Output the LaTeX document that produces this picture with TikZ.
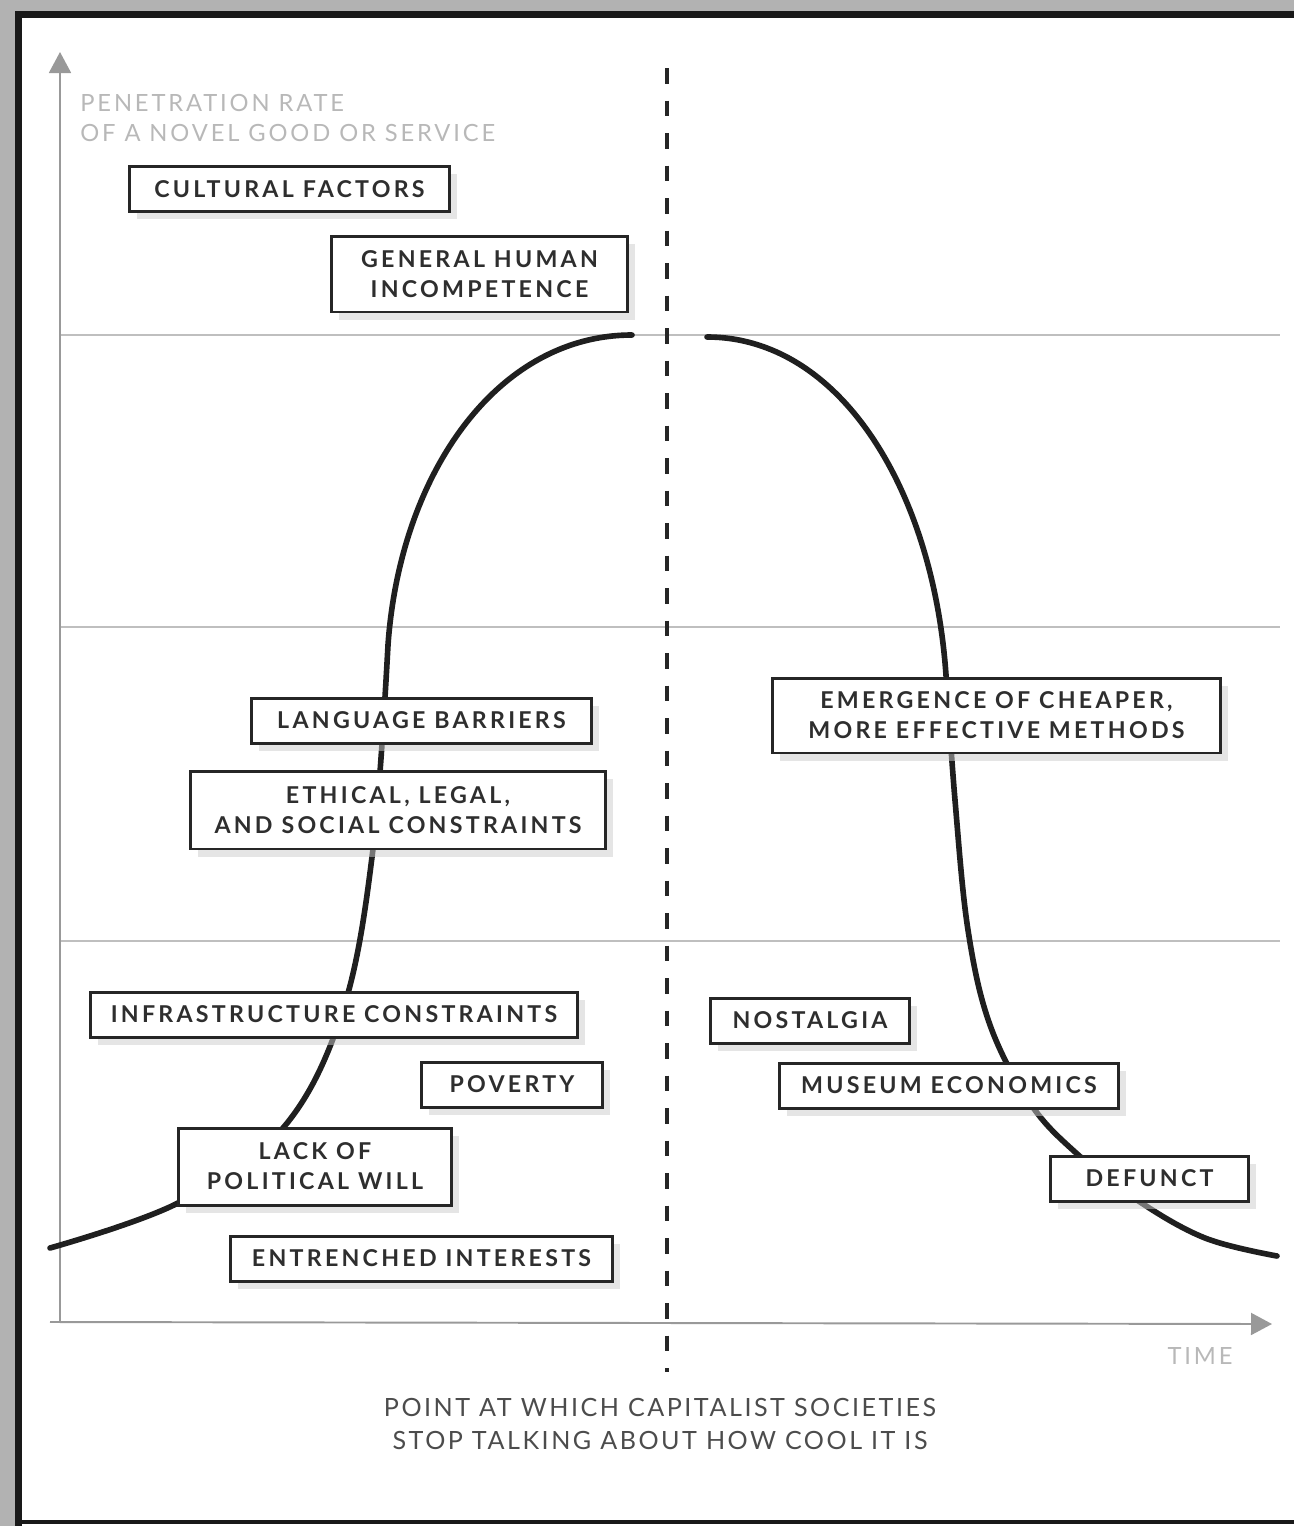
\documentclass[tikz,border=0pt]{standalone}
\usepackage{fontspec}
\setmainfont{Lato}
\newfontfamily\tagfont[LetterSpace=14]{Lato}
\newfontfamily\notefont[LetterSpace=12]{Lato}
\newfontfamily\peakfont[LetterSpace=10]{Lato}
\usetikzlibrary{arrows.meta,shadows}

\begin{document}
\begin{tikzpicture}[x=0.02cm,y=-0.02cm,
    tag/.style={draw=black!85,line width=1.7pt,fill=white,align=center,
      minimum height=0.9cm,inner sep=0pt,text=black!82,
      font=\tagfont\bfseries\fontsize{13.2}{17}\selectfont,
      drop shadow={shadow xshift=0.15cm,shadow yshift=-0.15cm,fill=black!20}},
    axislabel/.style={font=\notefont\fontsize{13.5}{17}\selectfont,text=black!28,align=left,inner sep=0pt},
    axisline/.style={draw=black!40,line width=1.1pt,-{Triangle[length=0.42cm,width=0.44cm]}},
    gridline/.style={draw=black!25,line width=0.8pt},
    trend/.style={draw=black!88,line width=3.2pt,line cap=round,line join=round},
  ]
  \useasboundingbox (0,0) rectangle (1294,1526);
  % scanned page edge
  \fill[black!30] (0,0) rectangle (1294,11);
  \fill[black!30] (0,0) rectangle (15,1526);
  \draw[black!90,line width=4pt] (15,14.5) -- (1294,14.5);
  \draw[black!90,line width=4pt] (18.5,11) -- (18.5,1526);
  \draw[black!90,line width=2.4pt] (15,1522) -- (1294,1522);

  % axes
  \coordinate (ybot) at (60,1322);
  \coordinate (ytip) at (60,52);
  \coordinate (xbot) at (50,1322);
  \coordinate (xtip) at (1272,1324);
  \foreach \y in {335,627,941}
    \draw[gridline] (60,\y) -- (1280,\y);
  \draw[axisline] (ybot) -- (ytip);
  \draw[axisline] (xbot) -- (xtip);

  % divider
  \coordinate (dtop) at (667,68);
  \coordinate (dbot) at (667,1372);
  \draw[black!85,line width=1.9pt,dash pattern=on 9pt off 9.5pt] (dtop) -- (dbot);

  % adoption and decline
  \draw[trend] plot[smooth,tension=0.6] coordinates {(50,1248) (178,1203) (283,1128)
      (343,1010) (373,849) (388,645)}
    .. controls (400,474) and (497,335) .. (632,335);
  \draw[trend] (707,337) .. controls (839,337) and (933,488) .. (946,675)
    -- plot[smooth,tension=0.6] coordinates {(946,675) (955,800) (968,930) (990,1025)
      (1030,1103) (1075,1152) (1137,1200) (1205,1238) (1277,1256)};

  % labels
  \node[axislabel,anchor=west] (ylabel) at (80,118) {PENETRATION RATE\\OF A NOVEL GOOD OR SERVICE};
  \node[axislabel] (xlabel) at (1200,1356) {TIME};
  \node[font=\peakfont\fontsize{14.3}{19.3}\selectfont,text=black!70,align=center] (peak)
    at (660,1424) {POINT AT WHICH CAPITALIST SOCIETIES\\STOP TALKING ABOUT HOW COOL IT IS};

  % boxes
  \node[tag,minimum width=6.42cm] (culture) at (289.5,189) {CULTURAL FACTORS};
  \node[tag,minimum width=5.94cm,minimum height=1.52cm] (incompetence) at (479.5,274) {GENERAL HUMAN\\INCOMPETENCE};
  \node[tag,minimum width=6.82cm] (language) at (421.5,720.5) {LANGUAGE BARRIERS};
  \node[tag,minimum width=8.32cm,minimum height=1.56cm] (ethics) at (398,810) {ETHICAL, LEGAL,\\AND SOCIAL CONSTRAINTS};
  \node[tag,minimum width=9.76cm] (infra) at (334,1014.5) {INFRASTRUCTURE CONSTRAINTS};
  \node[tag,minimum width=3.64cm] (poverty) at (512,1084.5) {POVERTY};
  \node[tag,minimum width=5.48cm,minimum height=1.54cm] (will) at (315,1166.5) {LACK OF\\POLITICAL WILL};
  \node[tag,minimum width=7.66cm] (interests) at (421.5,1258.5) {ENTRENCHED INTERESTS};
  \node[tag,minimum width=8.98cm,minimum height=1.5cm] (cheaper) at (996.5,715.5) {EMERGENCE OF CHEAPER,\\MORE EFFECTIVE METHODS};
  \node[tag,minimum width=4cm] (nostalgia) at (810,1020.5) {NOSTALGIA};
  \node[tag,minimum width=6.8cm] (museum) at (949,1085.5) {MUSEUM ECONOMICS};
  \node[tag,minimum width=3.98cm] (defunct) at (1149.5,1178.5) {DEFUNCT};
\end{tikzpicture}
\end{document}
